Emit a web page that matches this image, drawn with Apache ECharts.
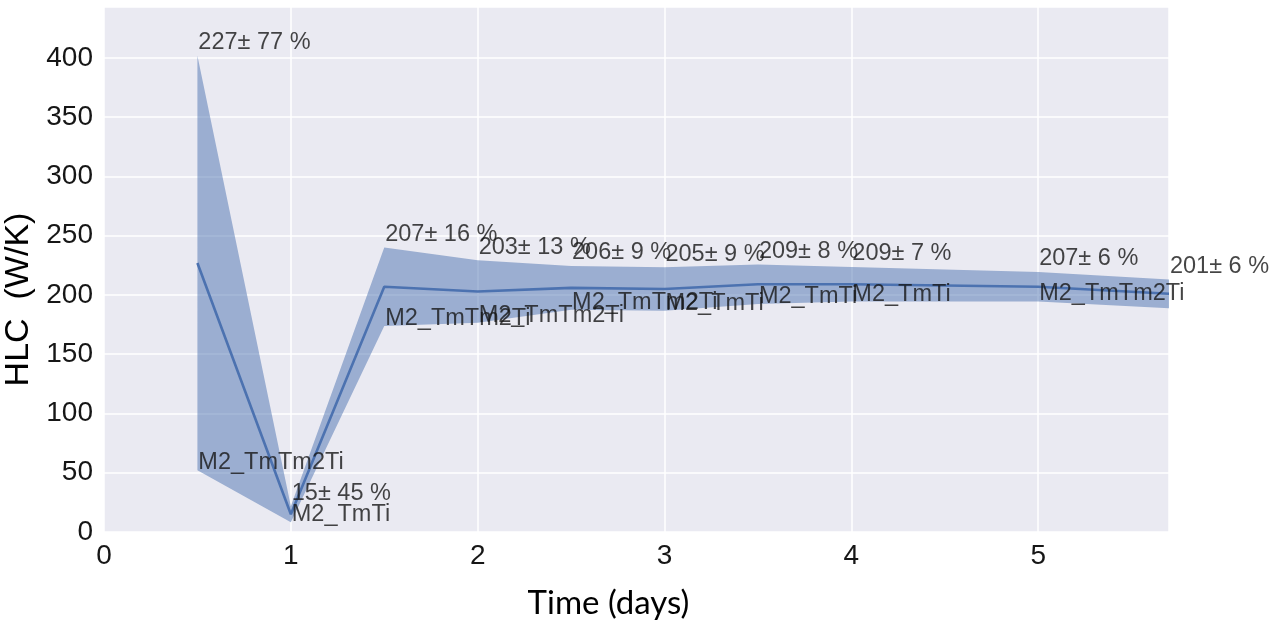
<!DOCTYPE html>
<html>
<head>
<meta charset="utf-8">
<script src="https://cdn.jsdelivr.net/npm/echarts@6/dist/echarts.min.js"></script>
<style>
html,body{margin:0;padding:0;background:#fff;}
#chart{width:1282px;height:623px;}
</style>
</head>
<body>
<div id="chart"></div>
<script>
// Data
var days = [0.5, 1, 1.5, 2, 2.5, 3, 3.5, 4, 5, 5.7];
var hlcMean = [227, 15, 207, 203, 206, 205, 209, 209, 207, 201];
var hlcPct = [77, 45, 16, 13, 9, 9, 8, 7, 6, 6];
var bandLower = [52.2, 8.3, 173.9, 176.6, 187.5, 186.6, 192.3, 194.4, 194.6, 188.9];
var bandUpper = [401.8, 21.8, 240.1, 229.4, 224.5, 223.5, 225.7, 223.6, 219.4, 213.1];
var modelNames = ['M2_TmTm2Ti', 'M2_TmTi', 'M2_TmTm2Ti', 'M2_TmTm2Ti', 'M2_TmTm2Ti', 'M2_TmTi', 'M2_TmTi', 'M2_TmTi', 'M2_TmTm2Ti', ''];
var yTicks = [0, 50, 100, 150, 200, 250, 300, 350, 400];
var xTicks = [0, 1, 2, 3, 4, 5];

var blue = '#4C72B0';
var textCol = '#161616';
var font = '"Liberation Sans", Arial, sans-serif';

function pairs(xs, ys) { return xs.map(function (x, i) { return [x, ys[i]]; }); }

var chart = echarts.init(document.getElementById('chart'), null, {renderer: 'canvas'});
chart.setOption({
  animation: false,
  backgroundColor: '#ffffff',
  grid: {
    left: 104, right: 113, top: 7, bottom: 91,
    outerBoundsMode: 'none', containLabel: false,
    show: true, backgroundColor: '#EAEAF2', borderWidth: 0
  },
  xAxis: {
    type: 'value', min: 0, max: 5.7, interval: 1,
    name: 'Time (days)', nameLocation: 'middle', nameGap: 55,
    nameTextStyle: {fontFamily: 'Lato, "Open Sans", sans-serif', fontSize: 33, color: '#000', padding: [0, 56, 0, 0]},
    axisLine: {show: false}, axisTick: {show: false},
    axisLabel: {
      fontFamily: font, fontSize: 28, color: textCol, margin: 10,
      formatter: function (v) { return xTicks.indexOf(v) >= 0 ? String(v) : ''; }
    },
    splitLine: {show: true, lineStyle: {color: '#ffffff', width: 1.5}}
  },
  yAxis: {
    type: 'value', min: 0, max: 443, interval: 50,
    name: 'HLC  (W/K)', nameLocation: 'middle', nameGap: 64, nameRotate: 90,
    nameTextStyle: {fontFamily: font, fontSize: 34, color: '#000', padding: [0, 60, 0, 0]},
    axisLine: {show: false}, axisTick: {show: false},
    axisLabel: {
      fontFamily: font, fontSize: 28, color: textCol, margin: 11,
      formatter: function (v) { return yTicks.indexOf(v) >= 0 ? String(v) : ''; }
    },
    splitLine: {show: true, lineStyle: {color: '#ffffff', width: 1.5}}
  },
  series: [
    {
      name: 'band', type: 'custom', silent: true, z: 2,
      data: days.map(function (d, i) { return [d, bandLower[i], bandUpper[i]]; }),
      encode: {x: 0, y: [1, 2]},
      renderItem: function (params, api) {
        if (params.dataIndex !== 0) return null;
        var pts = [];
        for (var i = 0; i < days.length; i++) pts.push(api.coord([days[i], bandUpper[i]]));
        for (var j = days.length - 1; j >= 0; j--) pts.push(api.coord([days[j], bandLower[j]]));
        return {
          type: 'polygon',
          shape: {points: pts},
          style: {fill: blue, opacity: 0.5},
          clipPath: {type: 'rect', shape: {x: params.coordSys.x, y: params.coordSys.y, width: params.coordSys.width, height: params.coordSys.height}}
        };
      }
    },
    {
      name: 'mean', type: 'line', data: pairs(days, hlcMean),
      symbol: 'none', lineStyle: {color: blue, width: 2.6}, z: 3
    },
    {
      name: 'upperLabels', type: 'scatter', data: pairs(days, bandUpper),
      symbolSize: 0.1, itemStyle: {color: 'transparent'}, clip: false, z: 4,
      label: {
        show: true, position: [0, 0], align: 'left', verticalAlign: 'middle', offset: [1, -13],
        fontFamily: font, fontSize: 23.5, color: textCol,
        formatter: function (p) { return hlcMean[p.dataIndex] + '\u00b1 ' + hlcPct[p.dataIndex] + ' %'; }
      }
    },
    {
      name: 'lowerLabels', type: 'scatter', data: pairs(days, bandLower),
      symbolSize: 0.1, itemStyle: {color: 'transparent'}, clip: false, z: 4,
      label: {
        show: true, position: [0, 0], align: 'left', verticalAlign: 'middle', offset: [1, -7.5],
        fontFamily: font, fontSize: 23.5, color: textCol,
        formatter: function (p) { return modelNames[p.dataIndex]; }
      }
    }
  ]
});
</script>
</body>
</html>
